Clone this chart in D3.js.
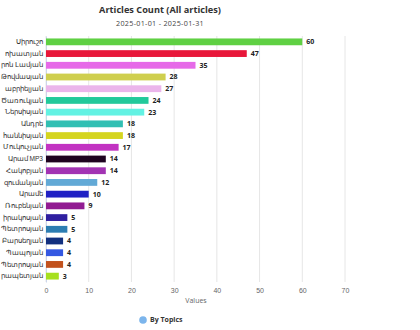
<!DOCTYPE html>
<html><head><meta charset="utf-8">
<script src="https://cdn.jsdelivr.net/npm/d3@7"></script>
<style>
html,body{margin:0;padding:0;background:#fff;overflow:hidden}
svg{display:block;font-family:"Open Sans","Noto Sans","DejaVu Sans",sans-serif}
</style></head><body>
<svg id="c" width="420" height="330"></svg>
<script>
const categories = ["Սիրուշո","ստ Թոխատյան","րոն Լամյան","ե Թովմասյան","ի Գաբրիելյան","ն Ծառուկյան","ա Ներսիսյան","Անդրե","Հովհաննիսյան","ա Մուկուչյան","Արամ MP3","վա Հակոբյան","Արզումանյան","Արամե","նա Ռուբենյան","տ Կիրակոսյան","ան Պետրոսյան","ստ Բարսեղյան","րիկ Պապոյան","ամ Պետրոսյան","Կարապետյան"];
const values = [60,47,35,28,27,24,23,18,18,17,14,14,12,10,9,5,5,4,4,4,3];
const colors = ["#5fd043","#e8173a","#e66ae8","#cfcf4e","#ebb5eb","#22c99b","#63f2e3","#31bfb3","#d5d51f","#c233c2","#1e0420","#a233b3","#62a9d6","#1f20c4","#921b92","#2f1fa0","#2c7db2","#12307f","#3458e2","#c2521d","#a6e01f"];
const xTicks = [0,10,20,30,40,50,60,70];
const title = "Articles Count (All articles)";
const subtitle = "2025-01-01 - 2025-01-31";
const xLabel = "Values";
const legendLabel = "By Topics";

const svg = d3.select("#c");
const m = {left:46, top:36, bottom:282};
const idx = d3.range(categories.length);
const x = d3.scaleLinear().domain([0,70]).range([m.left, 345]);
const y = d3.scaleBand().domain(idx).range([m.top, m.bottom]).paddingInner(0.42).paddingOuter(0.21);

svg.append("text").attr("x",160).attr("y",13).attr("text-anchor","middle")
  .attr("font-size",9.2).attr("font-weight","bold").attr("fill","#333").text(title);
svg.append("text").attr("x",160).attr("y",26).attr("text-anchor","middle")
  .attr("font-size",7.2).attr("fill","#444").attr("letter-spacing",0.3).text(subtitle);

// grid
svg.append("g").selectAll("line").data(xTicks).join("line")
  .attr("x1",d=>x(d)).attr("x2",d=>x(d)).attr("y1",m.top).attr("y2",m.bottom)
  .attr("stroke","#e6e6e6").attr("stroke-width",1);

// x axis
const xa = svg.append("g").attr("transform",`translate(0,${m.bottom})`)
  .call(d3.axisBottom(x).tickValues(xTicks).tickSize(0).tickPadding(6));
xa.select(".domain").remove();
xa.selectAll("text").attr("font-size",7).attr("fill","#666").attr("font-family",null);

svg.append("text").attr("x",196).attr("y",303).attr("text-anchor","middle")
  .attr("font-size",7).attr("fill","#666").text(xLabel);

// y axis
const ya = svg.append("g").attr("transform",`translate(${m.left},0)`)
  .call(d3.axisLeft(y).tickSize(0).tickPadding(3).tickFormat(i=>categories[i]));
ya.select(".domain").attr("stroke","#ccd6eb");
ya.selectAll("text").attr("font-size",6.6).attr("fill","#333").attr("font-family",null)
  .each(function(){
    const sel = d3.select(this);
    let t = sel.text();
    while (this.getComputedTextLength() > m.left - 4 && t.length > 3) {
      t = t.slice(1); sel.text(t);
    }
  });

// bars
svg.append("g").selectAll("rect").data(idx).join("rect")
  .attr("x",x(0)).attr("y",i=>y(i)).attr("height",y.bandwidth())
  .attr("width",i=>x(values[i])-x(0)).attr("fill",i=>colors[i]);

svg.append("g").selectAll("text").data(idx).join("text")
  .attr("x",i=>x(values[i])+4).attr("y",i=>y(i)+y.bandwidth()/2)
  .attr("dy","0.35em").attr("font-size",7).attr("font-weight","bold").attr("fill","#222")
  .text(i=>values[i]);

// legend
svg.append("circle").attr("cx",143).attr("cy",320).attr("r",3.8).attr("fill","#7cb5ec");
svg.append("text").attr("x",150).attr("y",320).attr("dy","0.35em")
  .attr("font-size",7).attr("font-weight","bold").attr("fill","#333").text(legendLabel);
</script>
</body></html>
